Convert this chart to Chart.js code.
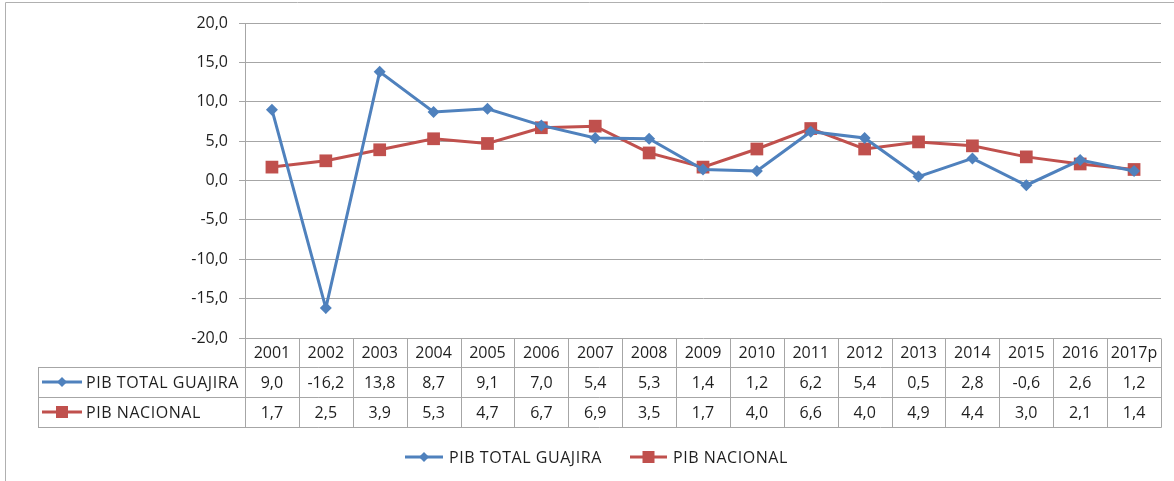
<!DOCTYPE html>
<html>
<head>
<meta charset="utf-8">
<script src="https://cdn.jsdelivr.net/npm/chart.js@4"></script>
<style>
html,body{margin:0;padding:0;background:#fff;}
canvas{display:block;}
</style>
</head>
<body>
<canvas id="c" width="1174" height="481"></canvas>
<script>
const categories = ['2001','2002','2003','2004','2005','2006','2007','2008','2009','2010','2011','2012','2013','2014','2015','2016','2017p'];
const guajira = [9.0,-16.2,13.8,8.7,9.1,7.0,5.4,5.3,1.4,1.2,6.2,5.4,0.5,2.8,-0.6,2.6,1.2];
const nacional = [1.7,2.5,3.9,5.3,4.7,6.7,6.9,3.5,1.7,4.0,6.6,4.0,4.9,4.4,3.0,2.1,1.4];
const seriesNames = ['PIB TOTAL GUAJIRA','PIB NACIONAL'];
const yMin = -20, yMax = 20, yStep = 5;

const BLUE = '#4F81BD', RED = '#C0504D', GRID = '#a6a6a6', TXT = '#1f1f1f';
const FONT = '16px "Open Sans"';
const fmt = v => v.toFixed(1).replace('.', ',');

function drawKey(ctx, x1, x2, y, color, style) {
  ctx.save();
  ctx.strokeStyle = color; ctx.fillStyle = color; ctx.lineWidth = 3;
  ctx.beginPath(); ctx.moveTo(x1, y); ctx.lineTo(x2, y); ctx.stroke();
  const cx = (x1 + x2) / 2;
  ctx.beginPath();
  if (style === 'rectRot') {
    const r = 5;
    ctx.moveTo(cx - r, y); ctx.lineTo(cx, y - r); ctx.lineTo(cx + r, y); ctx.lineTo(cx, y + r);
    ctx.closePath();
  } else {
    ctx.rect(cx - 6, y - 6, 12, 12);
  }
  ctx.fill();
  ctx.restore();
}

function nameText(ctx, s, x, y) {
  ctx.save();
  ctx.letterSpacing = '0.55px';
  ctx.fillText(s, x, y);
  ctx.restore();
}

const tablePlugin = {
  id: 'tablePlugin',
  afterDraw(chart) {
    const ctx = chart.ctx;
    const xs = chart.scales.x;
    const ca = chart.chartArea;
    const half = (xs.getPixelForValue(1) - xs.getPixelForValue(0)) / 2;
    const top = ca.bottom;
    const r1 = top + 29, r2 = r1 + 30, bot = r2 + 30;
    const tLeft = 38;
    ctx.save();
    // outer border
    ctx.strokeStyle = '#b0b0b0'; ctx.lineWidth = 1;
    ctx.beginPath();
    ctx.moveTo(5.5, 481); ctx.lineTo(5.5, 2.5); ctx.lineTo(1174, 2.5);
    ctx.stroke();
    // table lines
    ctx.strokeStyle = GRID; ctx.lineWidth = 1;
    ctx.beginPath();
    const a = v => Math.round(v) + 0.5;
    [r1, r2, bot].forEach(y => { ctx.moveTo(tLeft, a(y)); ctx.lineTo(a(ca.right), a(y)); });
    ctx.moveTo(a(tLeft), a(r1)); ctx.lineTo(a(tLeft), a(bot));
    for (let i = 0; i <= categories.length; i++) {
      const x = a(xs.getPixelForValue(0) - half + i * 2 * half);
      ctx.moveTo(x, a(top)); ctx.lineTo(x, a(bot));
    }
    ctx.stroke();
    // text
    ctx.fillStyle = TXT; ctx.font = FONT; ctx.textAlign = 'center'; ctx.textBaseline = 'middle';
    categories.forEach((c, i) => {
      const x = xs.getPixelForValue(i);
      ctx.fillText(c, x, (top + r1) / 2 + 1);
      ctx.fillText(fmt(guajira[i]), x, (r1 + r2) / 2 + 1);
      ctx.fillText(fmt(nacional[i]), x, (r2 + bot) / 2 + 1);
    });
    ctx.textAlign = 'left';
    drawKey(ctx, 42, 82, (r1 + r2) / 2, BLUE, 'rectRot');
    drawKey(ctx, 42, 82, (r2 + bot) / 2, RED, 'rect');
    ctx.fillStyle = TXT;
    nameText(ctx, seriesNames[0], 86, (r1 + r2) / 2 + 1);
    nameText(ctx, seriesNames[1], 86, (r2 + bot) / 2 + 1);
    // bottom legend
    const ly = 457;
    drawKey(ctx, 405, 443, ly, BLUE, 'rectRot');
    ctx.fillStyle = TXT;
    nameText(ctx, seriesNames[0], 449, ly + 1);
    drawKey(ctx, 630, 667, ly, RED, 'rect');
    ctx.fillStyle = TXT;
    nameText(ctx, seriesNames[1], 673, ly + 1);
    ctx.restore();
  }
};

new Chart(document.getElementById('c'), {
  type: 'line',
  data: {
    labels: categories,
    datasets: [
      { label: seriesNames[0], data: guajira, borderColor: BLUE, backgroundColor: BLUE,
        borderWidth: 3, pointStyle: 'rectRot', pointRadius: 6, pointBorderWidth: 0, tension: 0 },
      { label: seriesNames[1], data: nacional, borderColor: RED, backgroundColor: RED,
        borderWidth: 3, pointStyle: 'rect', pointRadius: 9, pointBorderWidth: 0, tension: 0 }
    ]
  },
  options: {
    responsive: false,
    devicePixelRatio: 1,
    animation: false,
    layout: { padding: { left: 0, top: 23, right: 13, bottom: 143 } },
    plugins: { legend: { display: false }, tooltip: { enabled: false } },
    scales: {
      x: { type: 'category', offset: true, display: false },
      y: {
        min: yMin, max: yMax,
        afterFit(s) { s.width = 245; s.paddingTop = 0; s.paddingBottom = 0; },
        ticks: { stepSize: yStep, callback: v => fmt(v), color: TXT, font: { family: 'Open Sans', size: 16 }, padding: 11 },
        grid: { color: GRID, tickLength: 6, drawTicks: true },
        border: { color: GRID, width: 1 }
      }
    }
  },
  plugins: [tablePlugin]
});
</script>
</body>
</html>
